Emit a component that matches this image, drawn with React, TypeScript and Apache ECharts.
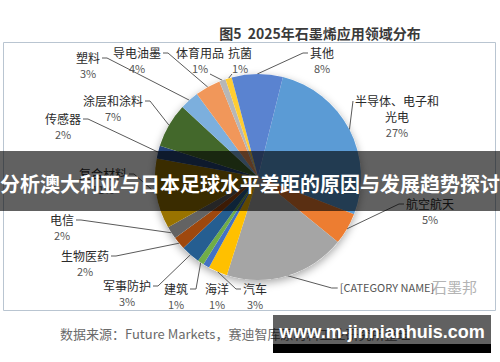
import React, { useEffect, useRef } from 'react';
import * as echarts from 'echarts';

// ---- data ----
const categories = [
  '半导体、电子和光电', '航空航天', '[CATEGORY NAME]', '汽车', '海洋', '建筑', '军事防护',
  '生物医药', '电信', '复合材料', '传感器', '涂层和涂料', '塑料', '导电油墨', '体育用品', '抗菌', '其他',
];
const values = [27, 5, 19, 3, 1, 1, 3, 2, 2, 11, 2, 7, 3, 4, 1, 1, 8];
const displayNames = [
  '半导体、电子和\n光电', '航空航天', '[CATEGORY NAME]', '汽车', '海洋', '建筑', '军事防护',
  '生物医药', '电信', '复合材料', '传感器', '涂层和涂料', '塑料', '导电油墨', '体育用品', '抗菌', '其他',
];
const noPercent = ['[CATEGORY NAME]'];
const colors = [
  '#5B9BD5', '#ED7D31', '#A5A5A5', '#FFC000', '#4472C4', '#70AD47', '#255E91',
  '#9E480E', '#636363', '#997300', '#264478', '#43682B', '#7CAFDD', '#F1975A', '#B7B7B7', '#FFCD33', '#5A83D0',
];
const titleText = '图5  2025年石墨烯应用领域分布';
const sourceText = '数据来源：Future Markets，赛迪智库原材料工业研究所整理';
const bannerText = '分析澳大利亚与日本足球水平差距的原因与发展趋势探讨';
const watermarkText = 'www.m-jinnianhuis.com';

// label placement (layout, not data): name-line centre and leader attachment side
const labelPlace: { x: number; y: number; side: string; gap: number }[] = [
  { x: 397, y: 100, side: 'l', gap: 0 },
  { x: 430, y: 203, side: 'l', gap: 5 },
  { x: 387, y: 287, side: 'l', gap: 6 },
  { x: 255, y: 288, side: 'l', gap: 5 },
  { x: 217, y: 288, side: 'none', gap: 0 },
  { x: 176, y: 288, side: 'r', gap: 6 },
  { x: 127, y: 285, side: 'r', gap: 5 },
  { x: 85, y: 255, side: 'r', gap: 5 },
  { x: 62, y: 219, side: 'r', gap: 5 },
  { x: 103, y: 173, side: 'r', gap: 5 },
  { x: 63, y: 118, side: 'r', gap: 5 },
  { x: 113, y: 100, side: 'r', gap: 5 },
  { x: 88, y: 57, side: 'r', gap: 5 },
  { x: 137, y: 52, side: 'r', gap: 5 },
  { x: 200, y: 52, side: 'b', gap: 10 },
  { x: 240, y: 52, side: 'b', gap: -8 },
  { x: 322, y: 52, side: 'l', gap: 5 },
];

const CJK = '"Noto Sans CJK SC", "Noto Sans", sans-serif';
const LH = 16;

export default function App() {
  const ref = useRef<HTMLDivElement>(null);
  useEffect(() => {
    if (!ref.current) return;
    const chart = echarts.init(ref.current, undefined, { renderer: 'svg' });
    const data = categories.map((c, i) => ({
      name: c,
      value: values[i],
      itemStyle: { color: colors[i] },
      labelLine: { show: labelPlace[i].side !== 'none' },
    }));
    chart.setOption({
      animation: false,
      backgroundColor: '#fff',
      title: {
        text: titleText,
        left: 315,
        top: 21,
        textAlign: 'center',
        textStyle: { fontSize: 14, fontWeight: 'bold', color: '#3a3a3a', fontFamily: CJK },
      },
      graphic: [
        {
          type: 'rect', z: 0,
          shape: { x: 3.5, y: 42.5, width: 492, height: 268 },
          style: { fill: 'none', stroke: '#b9c5d1', lineWidth: 1 },
        },
        {
          type: 'text', z: 0, x: 60, y: 333,
          style: { text: sourceText, fontSize: 13, fill: '#6a6a6a', fontFamily: CJK, verticalAlign: 'middle' },
        },
        {
          type: 'text', z: 0, x: 432, y: 286,
          style: { text: '石墨邦', fontSize: 15, fill: '#b4b4b4', fontFamily: CJK, verticalAlign: 'middle' },
        },
        {
          type: 'rect', z: 100,
          shape: { x: 0, y: 151, width: 500, height: 60 },
          style: { fill: 'rgba(0,0,0,0.62)' },
        },
        {
          type: 'text', z: 101, x: 250, y: 183,
          style: {
            text: bannerText, fontSize: 20, fontWeight: 'bold', fill: '#fff', fontFamily: CJK,
            align: 'center', verticalAlign: 'middle',
          },
        },
        {
          type: 'rect', z: 100,
          shape: { x: 273, y: 315, width: 218, height: 29 },
          style: { fill: 'rgba(0,0,0,0.62)' },
        },
        {
          type: 'rect', z: 100,
          shape: { x: 273, y: 344, width: 218, height: 9 },
          style: { fill: '#000' },
        },
        {
          type: 'text', z: 101, x: 382, y: 332,
          style: {
            text: watermarkText, fontSize: 18, fontWeight: 'bold', fill: '#fff',
            fontFamily: '"Liberation Sans", Arial, sans-serif', align: 'center', verticalAlign: 'middle',
          },
        },
      ],
      series: [
        {
          type: 'pie',
          z: 1,
          silent: true,
          center: [258, 177],
          radius: 103,
          label: { show: false },
          labelLine: { show: false },
          itemStyle: { color: '#ffffff', shadowBlur: 8, shadowColor: 'rgba(0,0,0,0.35)', shadowOffsetY: 3 },
          data: [{ value: 1, name: 'bg' }],
        },
        {
          type: 'pie',
          z: 2,
          center: [258, 177],
          radius: 103,
          startAngle: 76,
          clockwise: true,
          avoidLabelOverlap: false,
          itemStyle: { borderWidth: 0 },
          label: {
            show: true,
            position: 'outside',
            fontFamily: CJK,
            formatter: (p: any) => {
              const i = p.dataIndex;
              const names = displayNames[i].split('\n');
              if (noPercent.includes(categories[i])) return `{c|${names[0]}}`;
              return names.map((n) => `{n|${n}}`).join('\n') + `\n{p|${values[i]}%}`;
            },
            rich: {
              n: { fontSize: 12, color: '#2a2a2a', lineHeight: LH, fontFamily: CJK, align: 'center' },
              p: { fontSize: 11, color: '#555', lineHeight: LH, fontFamily: CJK, align: 'center' },
              c: { fontSize: 11, color: '#555', lineHeight: LH, fontFamily: CJK, align: 'center' },
            },
          },
          labelLine: { show: true, length: 6, length2: 6, lineStyle: { color: '#5a5a5a', width: 1 } },
          labelLayout: (p: any) => {
            const L = labelPlace[p.dataIndex];
            const w = p.labelRect ? p.labelRect.width : 40;
            const top = L.y - LH / 2;
            const edge = p.labelLinePoints ? p.labelLinePoints[0] : [L.x, L.y];
            let anchor: number[] = [L.x, L.y];
            let elbow: number[] = [L.x, L.y];
            if (L.side === 'r') {
              anchor = [L.x + w / 2 + 2, L.y + 1];
              elbow = [anchor[0] + L.gap, anchor[1]];
            } else if (L.side === 'l') {
              anchor = [L.x - w / 2 - 2, L.y + 1];
              elbow = [anchor[0] - L.gap, anchor[1]];
            } else if (L.side === 'b') {
              anchor = [L.x + L.gap, L.y + LH + 6];
              elbow = anchor;
            }
            return {
              x: L.x,
              y: top,
              align: 'center',
              verticalAlign: 'top',
              hideOverlap: false,
              labelLinePoints: [edge, elbow, anchor],
            };
          },
          data,
        },
      ],
    });
    return () => chart.dispose();
  }, []);
  return (
    <div
      ref={ref}
      style={{ position: 'fixed', left: 0, top: 0, width: 500, height: 362, background: '#fff' }}
    />
  );
}
